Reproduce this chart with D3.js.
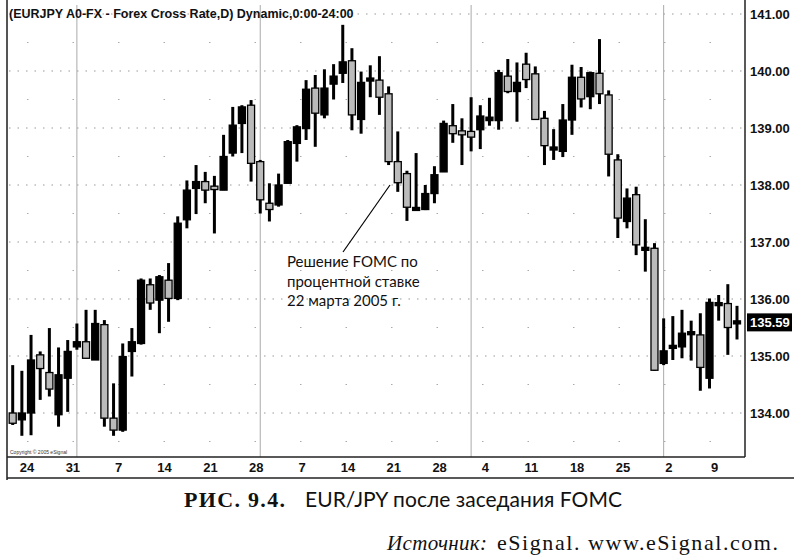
<!DOCTYPE html><html><head><meta charset="utf-8">
<script src="https://cdn.jsdelivr.net/npm/d3@7"></script>
<style>body{margin:0;background:#fff}</style></head><body>
<svg id="c" width="794" height="558"></svg>
<script>
// [open, high, low, close]
const opens =[134.0,133.88,134.0,135.02,134.71,133.97,134.61,135.16,135.25,134.93,135.55,133.91,133.7,135.08,135.22,136.25,135.98,136.33,136.01,137.39,137.94,138.06,137.98,137.91,138.56,139.08,139.4,138.41,137.68,137.65,138.03,138.73,138.99,139.7,139.23,139.77,139.96,140.18,139.15,139.8,139.84,139.6,138.41,138.2,137.55,137.57,137.85,138.23,139.04,138.95,138.94,138.97,139.13,139.13,139.91,139.64,140.12,139.95,139.17,138.6,138.59,139.14,139.89,139.55,139.96,139.58,138.44,137.36,137.83,136.85,136.89,134.87,135.12,135.16,135.37,135.37,134.61,135.89,135.92,135.54];
const highs =[134.84,134.74,135.37,135.08,135.49,135.15,135.28,135.57,135.81,135.81,135.63,134.52,135.22,135.49,136.36,136.36,136.42,136.63,137.45,138.08,138.35,138.23,138.16,138.88,139.37,139.4,139.49,138.44,138.03,138.2,138.79,139.05,139.84,139.93,140.03,140.12,140.81,140.4,139.99,140.1,140.26,139.73,138.94,138.25,138.56,138.0,138.33,139.13,139.42,139.17,139.54,139.4,139.53,140.02,140.21,140.15,140.32,140.08,139.3,138.98,139.42,140.11,140.07,139.99,140.56,139.66,138.54,137.94,137.97,137.4,136.98,135.66,135.7,135.81,135.62,135.75,136.01,136.07,136.26,135.88];
const lows  =[133.79,133.6,133.61,134.23,134.29,133.76,134.02,135.11,134.96,134.93,133.76,133.6,133.67,134.64,135.2,135.81,135.4,135.6,135.98,137.24,137.49,137.68,137.15,137.91,138.5,138.56,138.06,137.5,137.36,137.62,138.03,138.41,138.79,138.67,139.17,139.5,139.79,138.96,138.9,139.54,139.23,138.35,137.88,137.37,137.55,137.56,137.68,138.23,138.74,138.35,138.59,138.63,139.04,138.97,139.61,139.11,139.7,139.15,138.35,138.44,138.49,138.88,139.36,139.33,139.42,138.15,137.07,137.24,136.77,136.48,134.74,134.84,134.93,134.96,134.92,134.39,134.43,135.62,135.02,135.29];
const closes=[133.82,134.0,134.93,134.78,134.42,134.67,135.08,135.25,134.96,135.57,133.91,133.7,134.99,135.25,136.33,135.93,136.39,136.01,137.33,137.91,138.06,137.91,137.92,138.5,139.05,139.37,138.38,137.74,137.57,138.0,138.76,139.02,139.68,139.26,139.7,139.91,140.16,139.23,139.8,139.85,139.54,138.41,138.04,137.61,137.58,137.85,138.18,139.08,138.9,138.88,138.84,139.21,139.19,139.97,139.64,139.8,139.85,139.15,138.69,138.64,139.14,139.89,139.51,139.97,139.6,138.54,137.42,137.77,136.95,136.88,134.75,135.09,135.16,135.4,135.4,134.8,135.94,135.91,135.5,135.59];
const tickLabels=["24","31","7","14","21","28","7","14","21","28","4","11","18","25","2","9"];
const tickIdx=[2,7,12,17,22,27,32,37,42,47,52,57,62,67,72,77];
const monthLines=[7,27,50,71];
const priceTicks=[134,135,136,137,138,139,140,141];
const lastPrice=135.59;

const svg=d3.select("#c");
const x=d3.scaleLinear().domain([0,79]).range([12.7,737]);
const y=d3.scaleLinear().domain([134,141]).range([413,14]);
const L=7,R=745,B=457;

priceTicks.forEach(v=>{
  svg.append("line").attr("x1",L+2).attr("x2",R).attr("y1",y(v)).attr("y2",y(v))
   .attr("stroke","#999").attr("stroke-dasharray","1.5,7");
});
d3.range(133.5,141,1).forEach(v=>{
  svg.append("line").attr("x1",L+20).attr("x2",R).attr("y1",y(v)).attr("y2",y(v))
   .attr("stroke","#aaa").attr("stroke-dasharray","1.5,44");
});
monthLines.forEach(i=>svg.append("line").attr("x1",x(i)).attr("x2",x(i)).attr("y1",5).attr("y2",B)
  .attr("stroke","#aaa").attr("stroke-width",1));

svg.append("line").attr("x1",L).attr("x2",L).attr("y1",0).attr("y2",480).attr("stroke","#555").attr("stroke-width",2);
svg.append("line").attr("x1",R).attr("x2",R).attr("y1",0).attr("y2",B).attr("stroke","#222").attr("stroke-width",1.5);
svg.append("line").attr("x1",L).attr("x2",R).attr("y1",B).attr("y2",B).attr("stroke","#222").attr("stroke-width",1.5);
svg.append("line").attr("x1",L).attr("x2",R+49).attr("y1",478).attr("y2",478).attr("stroke","#222").attr("stroke-width",1.5);

const g=svg.append("g");
opens.forEach((o,i)=>{
  const c=closes[i], up=c>=o, cx=x(i);
  g.append("line").attr("x1",cx).attr("x2",cx).attr("y1",y(highs[i])).attr("y2",y(lows[i]))
   .attr("stroke","#000").attr("stroke-width",3);
  const top=y(Math.max(o,c)), h=Math.max(3,Math.abs(y(o)-y(c)));
  g.append("rect").attr("x",cx-3.5).attr("y",top-(h===3?1.5:0)).attr("width",7).attr("height",h)
   .attr("fill",up?"#000":"#bbb").attr("stroke","#000").attr("stroke-width",1.3);
});

priceTicks.forEach(v=>{
  svg.append("text").attr("x",750).attr("y",y(v)+5).text(v.toFixed(2))
   .attr("font-family","Liberation Sans, Arial").attr("font-weight","bold").attr("font-size",13).attr("fill","#111");
});
svg.append("rect").attr("x",747).attr("y",y(lastPrice)-9).attr("width",45).attr("height",18).attr("fill","#000");
svg.append("text").attr("x",750).attr("y",y(lastPrice)+5).text(lastPrice.toFixed(2))
 .attr("font-family","Liberation Sans, Arial").attr("font-weight","bold").attr("font-size",13).attr("fill","#fff");

tickLabels.forEach((t,i)=>{
  svg.append("text").attr("x",x(tickIdx[i])-4).attr("y",472).attr("text-anchor","middle").text(t)
   .attr("font-family","Liberation Sans, Arial").attr("font-weight","bold").attr("font-size",13).attr("fill","#111");
});

svg.append("text").attr("x",9).attr("y",18).text("(EURJPY A0-FX - Forex Cross Rate,D) Dynamic,0:00-24:00")
 .attr("font-family","Liberation Sans, Arial").attr("font-weight","bold").attr("font-size",12.5).attr("fill","#111");
svg.append("text").attr("x",10).attr("y",454).text("Copyright © 2005 eSignal")
 .attr("font-family","Liberation Sans, Arial").attr("font-size",5).attr("fill","#333");

svg.append("line").attr("x1",343).attr("x2",390).attr("y1",252).attr("y2",185).attr("stroke","#000").attr("stroke-width",1.2);
["Решение FOMC по","процентной ставке","22 марта 2005 г."].forEach((t,i)=>{
  svg.append("text").attr("x",287).attr("y",267+i*19.5).text(t)
   .attr("font-family","Lato, Noto Sans, sans-serif").attr("font-size",15).attr("fill","#111");
});

svg.append("text").attr("x",184).attr("y",507).text("РИС. 9.4.").attr("textLength",101)
 .attr("font-family","Liberation Serif, serif").attr("font-weight","bold").attr("font-size",22).attr("fill","#111");
svg.append("text").attr("x",305).attr("y",507).text("EUR/JPY после заседания FOMC").attr("textLength",317)
 .attr("font-family","Lato, Noto Sans, sans-serif").attr("font-size",21).attr("fill","#111");
svg.append("text").attr("x",387).attr("y",550).text("Источник:").attr("textLength",100)
 .attr("font-family","Liberation Serif, serif").attr("font-style","italic").attr("font-size",21).attr("fill","#111");
svg.append("text").attr("x",497).attr("y",550).text("eSignal. www.eSignal.com.").attr("textLength",281)
 .attr("font-family","Liberation Serif, serif").attr("font-size",22).attr("fill","#111");
</script></body></html>
